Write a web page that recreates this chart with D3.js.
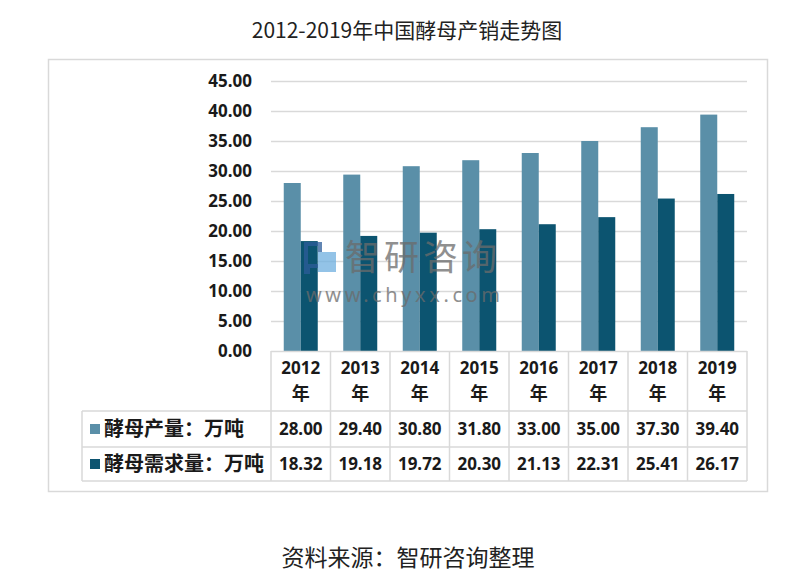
<!DOCTYPE html>
<html><head><meta charset="utf-8">
<script src="https://cdn.jsdelivr.net/npm/d3@7"></script>
<style>body{margin:0;background:#fff}</style></head>
<body><svg id="c" width="802" height="584"></svg>
<script>
const years = ["2012","2013","2014","2015","2016","2017","2018","2019"];
const production = [28.00,29.40,30.80,31.80,33.00,35.00,37.30,39.40];
const demand = [18.32,19.18,19.72,20.30,21.13,22.31,25.41,26.17];
const seriesNames = ["酵母产量：万吨","酵母需求量：万吨"];
const yTicks = [0,5,10,15,20,25,30,35,40,45];
const colors = ["#5a8fa8","#0c5470"];
const titleText = "2012-2019年中国酵母产销走势图";
const sourceText = "资料来源：智研咨询整理";

const svg = d3.select("#c");
const series = [production, demand];
const num = "'Noto Sans','Open Sans',sans-serif";
const cjk = "'Noto Sans CJK SC','Noto Sans',sans-serif";
const grid = "#d9d9d9";

svg.append("text").attr("x",407).attr("y",38).attr("text-anchor","middle")
  .attr("font-family",cjk).attr("font-size",21).attr("fill","#222").text(titleText);

svg.append("rect").attr("x",48.5).attr("y",59.5).attr("width",719).attr("height",432)
  .attr("fill","none").attr("stroke",grid).attr("stroke-width",1.5);

const x = d3.scaleBand().domain(years).range([271,747]).padding(0);
const x1 = d3.scaleBand().domain([0,1]).range([0,x.bandwidth()]).paddingInner(0).paddingOuter(0.75);
const y = d3.scaleLinear().domain([0,45]).range([351,81]);

// gridlines
svg.append("g").selectAll("line").data(yTicks.filter(d=>d>0)).join("line")
  .attr("x1",271).attr("x2",747).attr("y1",d=>Math.round(y(d))+0.5).attr("y2",d=>Math.round(y(d))+0.5)
  .attr("stroke",grid).attr("stroke-width",1.5);

// y axis labels
const yAxis = d3.axisLeft(y).tickValues(yTicks).tickFormat(d3.format(".2f")).tickSize(0).tickPadding(0);
const ya = svg.append("g").attr("transform","translate(252,0)").call(yAxis);
ya.select(".domain").remove();
ya.selectAll("text").attr("font-family",num).attr("font-size",17).attr("font-weight","bold").attr("fill","#1a1a1a");

// bars
series.forEach((vals,si)=>{
  svg.append("g").selectAll("rect").data(vals).join("rect")
    .attr("x",(d,i)=>x(years[i])+x1(si)).attr("width",x1.bandwidth())
    .attr("y",d=>y(d)).attr("height",d=>y(0)-y(d)).attr("fill",colors[si]);
});

// watermark
const wm = svg.append("g").attr("opacity",0.75);
wm.append("rect").attr("x",306).attr("y",244).attr("width",14).attr("height",22).attr("fill","none").attr("stroke","#2d5d9a").attr("stroke-width",4);
wm.append("rect").attr("x",318).attr("y",252).attr("width",18).attr("height",20).attr("fill","#6fb0e0");
wm.append("rect").attr("x",304).attr("y",268).attr("width",6).attr("height",6).attr("fill","#2d5d9a");
wm.append("text").attr("x",345).attr("y",270).attr("font-family",cjk).attr("font-size",35)
  .attr("fill","#6b6b6b").attr("letter-spacing",4).text("智研咨询");
wm.append("text").attr("x",306).attr("y",302).attr("font-family",num).attr("font-size",20)
  .attr("fill","#6b6b6b").attr("letter-spacing",3.6).text("www.chyxx.com");

// table
const t = svg.append("g").attr("stroke",grid).attr("stroke-width",1.5);
const bounds = years.map(d=>x(d)).concat([747]);
t.selectAll(".v").data(bounds).join("line").attr("x1",d=>d).attr("x2",d=>d).attr("y1",351).attr("y2",481);
t.append("line").attr("x1",82).attr("x2",82).attr("y1",411).attr("y2",481);
t.append("line").attr("x1",271).attr("x2",747).attr("y1",351.5).attr("y2",351.5);
[411,447,481].forEach(yy=>t.append("line").attr("x1",82).attr("x2",747).attr("y1",yy).attr("y2",yy));

const cx = d=>x(d)+x.bandwidth()/2;
svg.append("g").selectAll("text").data(years).join("text")
  .attr("x",cx).attr("y",368).attr("dy","0.35em").attr("text-anchor","middle")
  .attr("font-family",num).attr("font-size",17).attr("font-weight","bold").attr("fill","#1a1a1a").text(d=>d);
svg.append("g").selectAll("text").data(years).join("text")
  .attr("x",cx).attr("y",394).attr("dy","0.35em").attr("text-anchor","middle")
  .attr("font-family",cjk).attr("font-size",18).attr("font-weight","bold").attr("fill","#1a1a1a").text("年");

const rowY = [429,464];
series.forEach((vals,si)=>{
  svg.append("g").selectAll("text").data(vals).join("text")
    .attr("x",(d,i)=>cx(years[i])).attr("y",rowY[si]).attr("dy","0.35em").attr("text-anchor","middle")
    .attr("font-family",num).attr("font-size",17).attr("font-weight","bold").attr("fill","#1a1a1a")
    .text(d=>d3.format(".2f")(d));
  svg.append("rect").attr("x",90).attr("y",rowY[si]-5).attr("width",10).attr("height",10).attr("fill",colors[si]);
  svg.append("text").attr("x",104).attr("y",rowY[si]).attr("dy","0.36em")
    .attr("font-family",cjk).attr("font-size",20).attr("font-weight","bold").attr("fill","#1a1a1a").text(seriesNames[si]);
});

svg.append("text").attr("x",408).attr("y",566).attr("text-anchor","middle")
  .attr("font-family",cjk).attr("font-size",23).attr("fill","#222").text(sourceText);
</script></body></html>
